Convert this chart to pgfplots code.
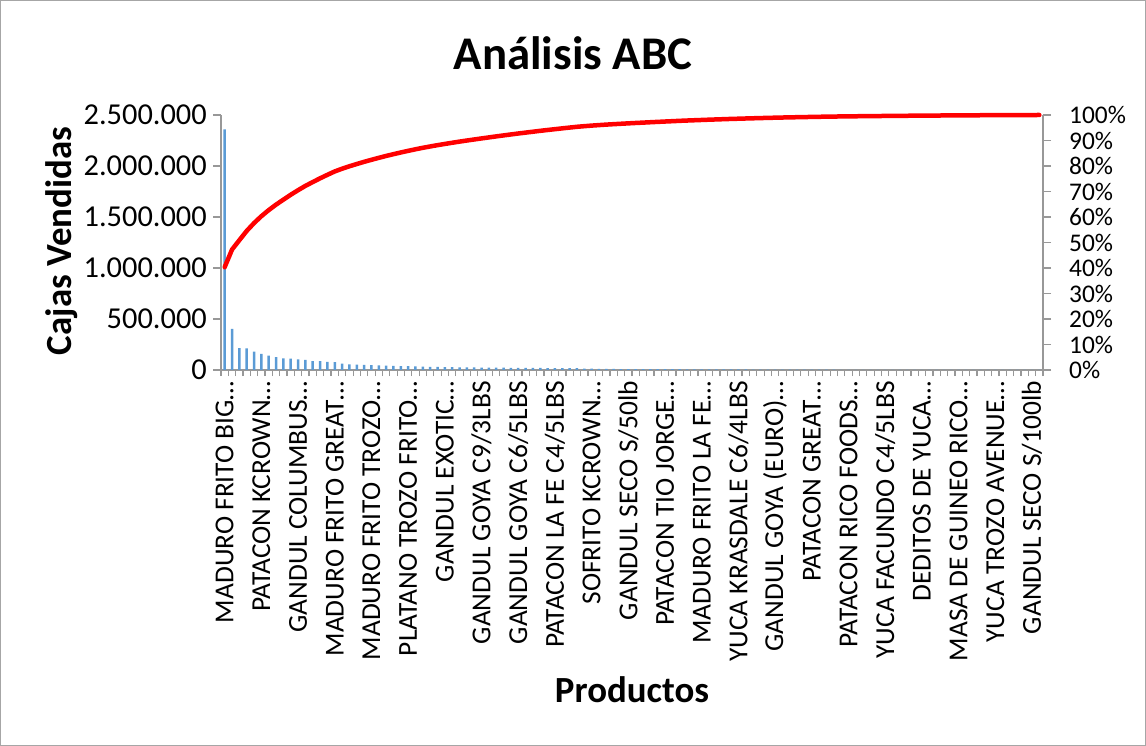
\documentclass[border=0pt]{standalone}
\usepackage{fontspec}
\setmainfont{Carlito}
\usepackage{pgfplots}
\usepackage{pgfplotstable}
\pgfplotsset{compat=1.18}
\definecolor{barblue}{HTML}{5B9BD5}
\definecolor{axgray}{HTML}{989898}
\definecolor{framegray}{HTML}{A6A6A6}

\pgfplotstableread{
x v p
0 2360000 40.32
1 404000 47.22
2 215000 50.90
3 213000 54.53
4 180000 57.61
5 158000 60.31
6 140000 62.70
7 126000 64.85
8 114000 66.80
9 112000 68.72
10 105000 70.51
11 99000 72.20
12 88000 73.70
13 86000 75.17
14 80000 76.54
15 78000 77.87
16 62000 78.93
17 56000 79.89
18 52000 80.78
19 50000 81.63
20 47000 82.43
21 45000 83.20
22 43000 83.94
23 41000 84.64
24 39000 85.30
25 37000 85.94
26 36000 86.55
27 34000 87.13
28 31000 87.66
29 30000 88.17
30 28000 88.65
31 27000 89.11
32 26000 89.56
33 25000 89.99
34 24500 90.40
35 24000 90.81
36 23500 91.21
37 23000 91.61
38 22500 91.99
39 22000 92.37
40 21500 92.74
41 21000 93.09
42 20500 93.44
43 20000 93.79
44 19500 94.12
45 19000 94.44
46 18500 94.76
47 18000 95.07
48 17500 95.37
49 14500 95.61
50 13000 95.84
51 12000 96.04
52 11000 96.23
53 10000 96.40
54 9500 96.56
55 9000 96.72
56 8800 96.87
57 8600 97.01
58 8400 97.16
59 8200 97.30
60 8100 97.44
61 8000 97.57
62 7900 97.71
63 7000 97.83
64 6800 97.94
65 6500 98.05
66 6200 98.16
67 6000 98.26
68 5800 98.36
69 5500 98.46
70 5200 98.54
71 5000 98.63
72 4800 98.71
73 4600 98.79
74 4400 98.87
75 4200 98.94
76 4000 99.01
77 3800 99.07
78 3600 99.13
79 3400 99.19
80 3200 99.24
81 3000 99.30
82 2800 99.34
83 2600 99.39
84 2400 99.43
85 2200 99.47
86 2000 99.50
87 1900 99.53
88 1800 99.56
89 1700 99.59
90 1600 99.62
91 1600 99.65
92 1500 99.67
93 1500 99.70
94 1400 99.72
95 1400 99.75
96 1300 99.77
97 1300 99.79
98 1200 99.81
99 1200 99.83
100 1100 99.85
101 1100 99.87
102 1000 99.89
103 1000 99.90
104 900 99.92
105 900 99.94
106 800 99.95
107 800 99.96
108 700 99.97
109 600 99.98
110 500 99.99
111 400 100.00
}\data

\begin{document}
\begin{tikzpicture}
\useasboundingbox (0,0) rectangle (1146bp,746bp);
\draw[framegray, line width=1.2bp] (0.6bp,0.6bp) rectangle (1145.4bp,745.4bp);
\begin{axis}[
  at={(221bp,376bp)}, anchor=south west,
  scale only axis, width=822bp, height=255bp,
  xmin=-0.5, xmax=111.5, ymin=0, ymax=2500000,
  axis x line*=bottom, axis y line*=left,
  axis line style={axgray, line width=1.2bp},
  tick align=outside,
  major tick length=8bp, minor tick length=6bp,
  every tick/.style={axgray, line width=1.2bp},
  every major x tick/.append style={draw=none},
  xtick={0,5,...,110},
  xticklabels={{MADURO FRITO BIG…},{PATACON KCROWN…},{GANDUL COLUMBUS…},{MADURO FRITO GREAT…},{MADURO FRITO TROZO…},{PLATANO TROZO FRITO…},{GANDUL EXOTIC…},{GANDUL GOYA C9/3LBS},{GANDUL GOYA C6/5LBS},{PATACON LA FE C4/5LBS},{SOFRITO KCROWN…},{GANDUL SECO S/50lb},{PATACON TIO JORGE…},{MADURO FRITO LA FE…},{YUCA KRASDALE C6/4LBS},{GANDUL GOYA (EURO)…},{PATACON GREAT…},{PATACON RICO FOODS…},{YUCA FACUNDO C4/5LBS},{DEDITOS DE YUCA…},{MASA DE GUINEO RICO…},{YUCA TROZO AVENUE…},{GANDUL SECO S/100lb}},
  minor xtick={-0.5,0.5,...,111.5},
  ytick={0,500000,...,2500000},
  scaled y ticks=false,
  /pgf/number format/.cd, fixed, 1000 sep={.}, assume math mode=true, /pgfplots/.cd,
  ticklabel style={inner sep=0pt},
  xticklabel style={rotate=90, anchor=east, font=\fontsize{27.5}{31}\selectfont},
  yticklabel style={anchor=east, font=\fontsize{30.5}{34}\selectfont},
  xticklabel shift=3bp,
  yticklabel shift=6bp,
]
\addplot[ybar, bar width=2.5bp, fill=barblue, draw=none] table[x=x,y=v]{\data};
\end{axis}
\begin{axis}[
  at={(221bp,376bp)}, anchor=south west,
  scale only axis, width=822bp, height=255bp,
  xmin=-0.5, xmax=111.5, ymin=0, ymax=100,
  hide x axis, axis y line*=right,
  axis line style={axgray, line width=1.2bp},
  tick align=outside, major tick length=8bp,
  every tick/.style={axgray, line width=1.2bp},
  ytick={0,10,...,100},
  /pgf/number format/.cd, fixed, assume math mode=true, /pgfplots/.cd,
  yticklabel={\pgfmathprintnumber{\tick}\%},
  yticklabel style={anchor=west, font=\fontsize{25.5}{28}\selectfont, inner sep=0pt},
  yticklabel shift=18bp,
  clip=false,
]
\addplot[red, line width=4.5bp, line join=round, line cap=round] table[x=x,y=p]{\data};
\end{axis}
\node[font=\fontsize{47}{54}\selectfont\bfseries, anchor=base] at (573bp,676bp) {Análisis ABC};
\node[font=\fontsize{37}{44}\selectfont\bfseries, anchor=base] at (632bp,43bp) {Productos};
\node[font=\fontsize{37}{44}\selectfont\bfseries, rotate=90, anchor=base] at (71bp,505bp) {Cajas Vendidas};
\end{tikzpicture}
\end{document}
